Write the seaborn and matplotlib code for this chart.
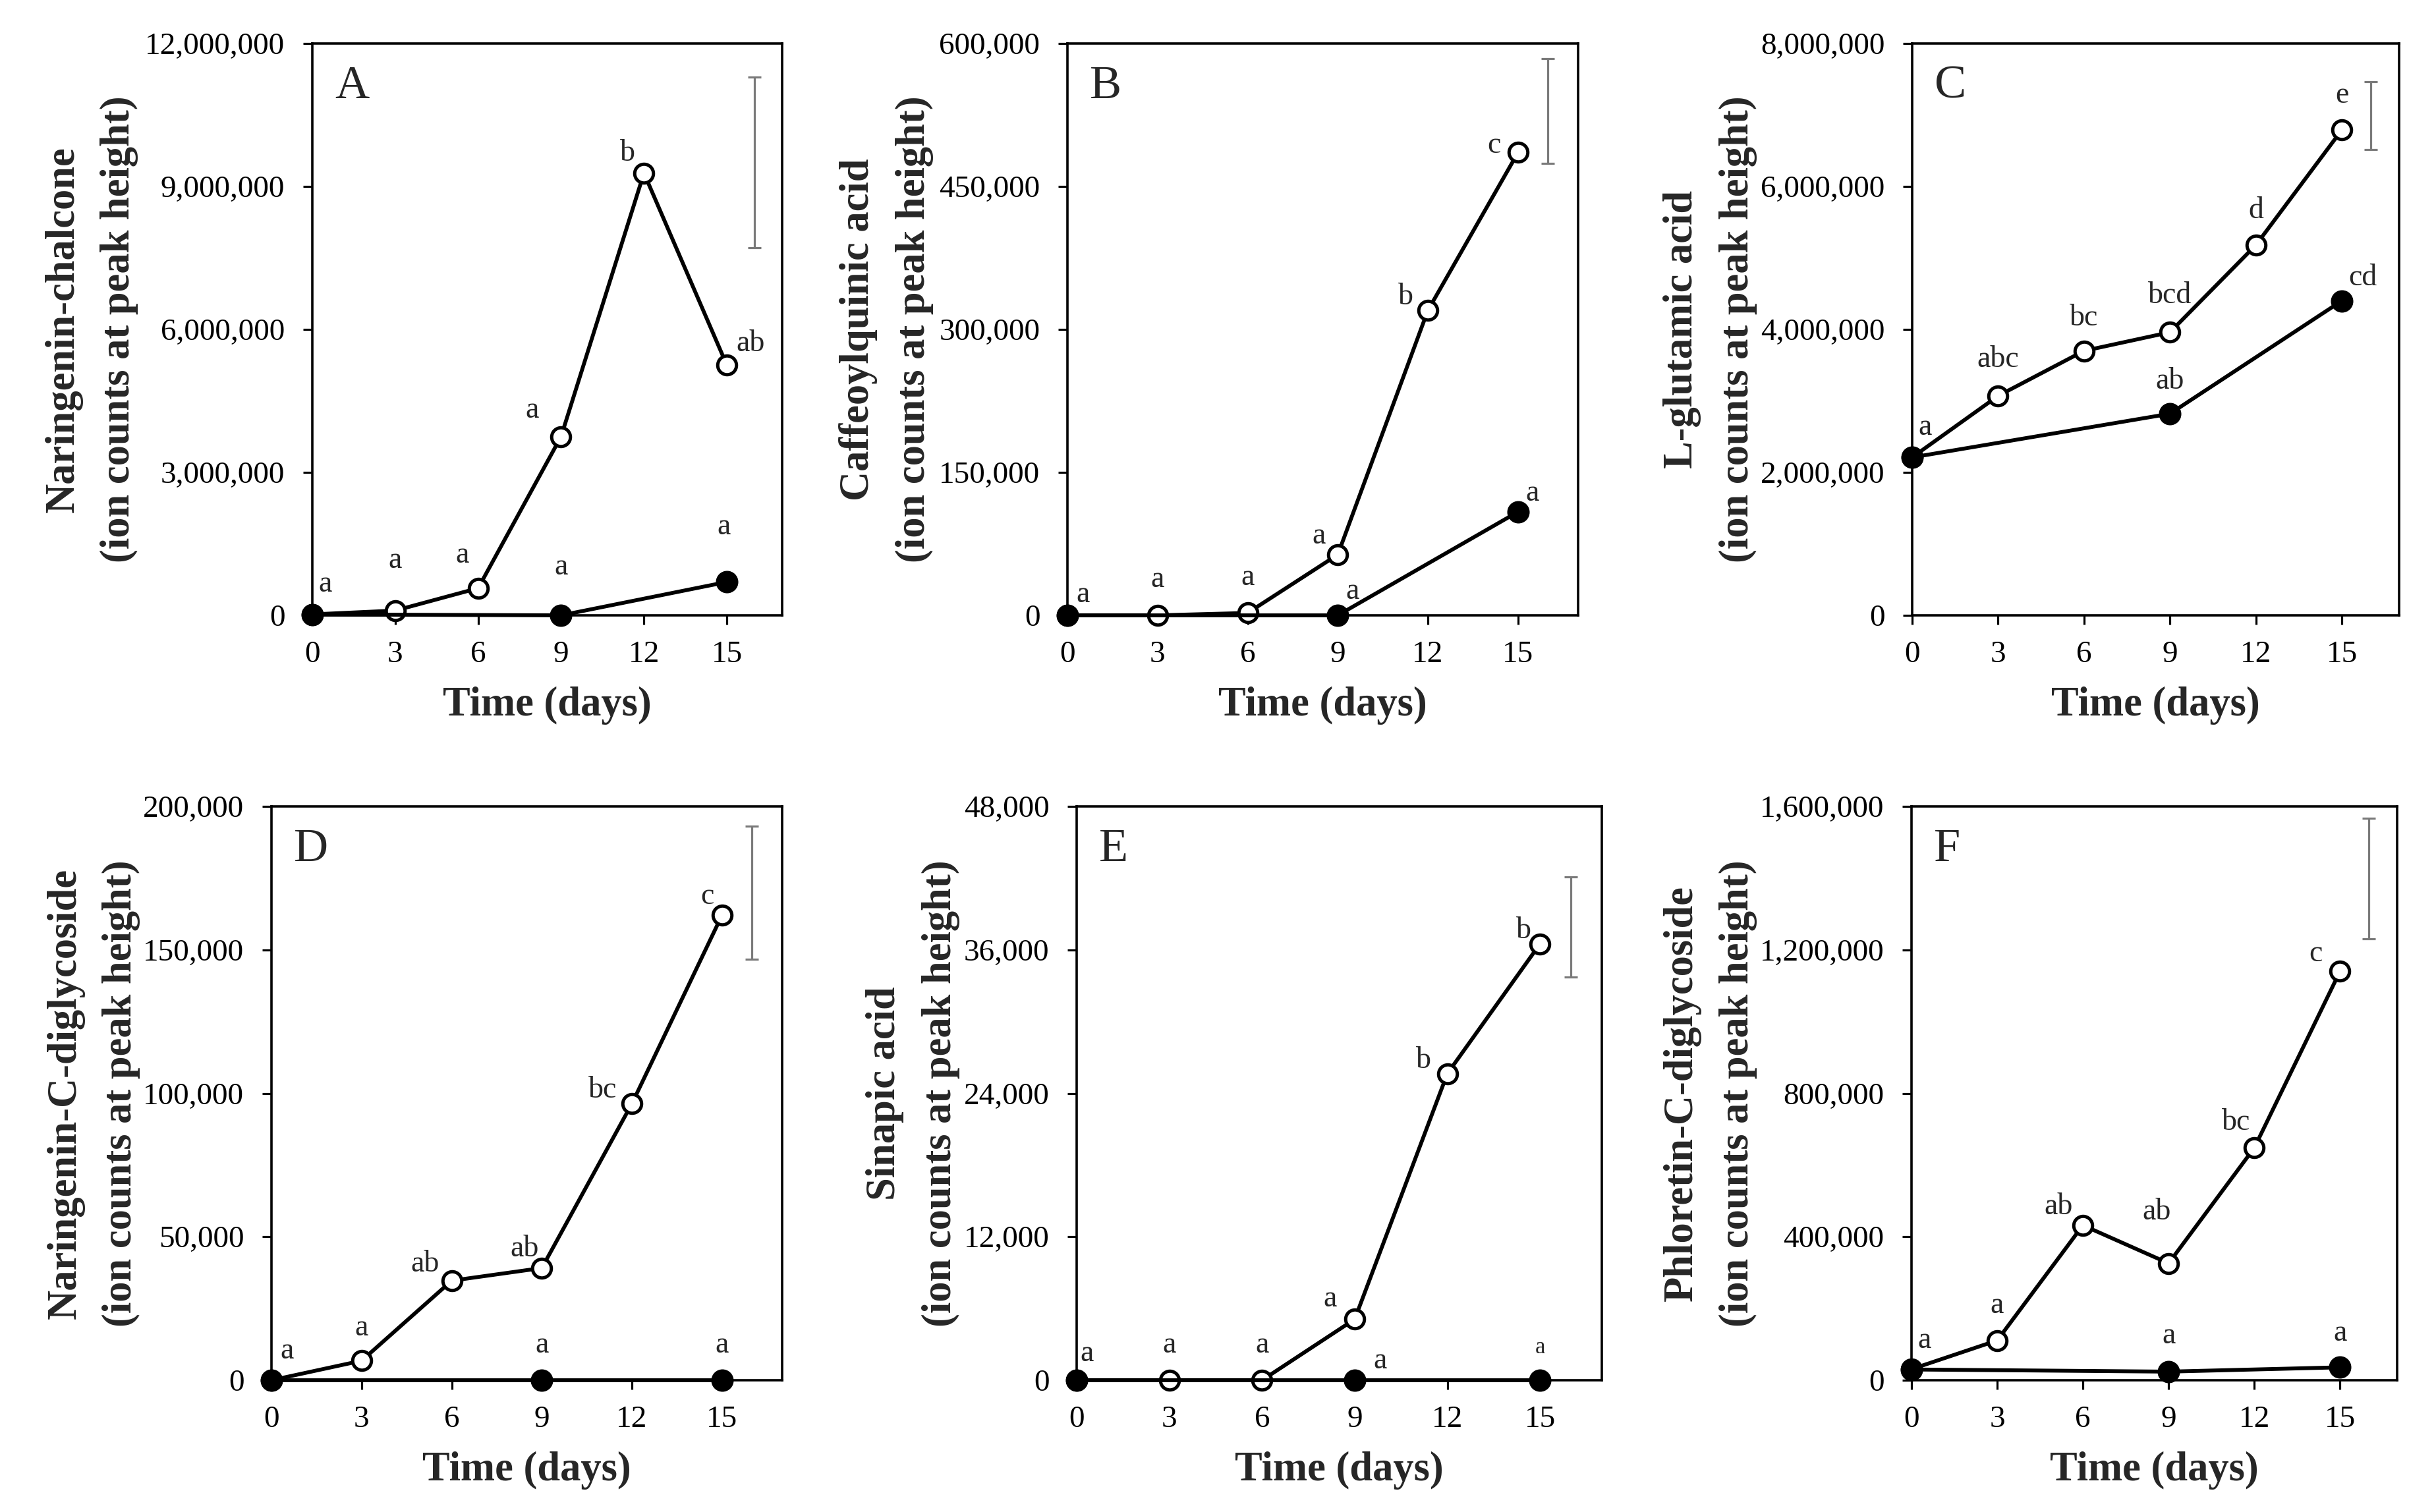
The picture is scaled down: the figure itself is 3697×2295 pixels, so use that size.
import numpy as np
import pandas as pd
import seaborn as sns
import matplotlib.pyplot as plt
from matplotlib.ticker import FuncFormatter

# sampling days
days = [0, 3, 6, 9, 12, 15]
days_ctrl = [0, 9, 15]

# A - naringenin-chalcone
a_open = [20000, 100000, 570000, 3750000, 9280000, 5250000]
a_fill = [20000, 0, 700000]
a_open_lab = ["a", "a", "a", "a", "b", "ab"]
a_fill_lab = ["", "a", "a"]
a_lsd = (9510000, 1790000)

# B - caffeoylquinic acid
b_open = [0, 0, 2500, 63700, 320000, 485600]
b_fill = [0, 0, 108600]
b_open_lab = ["a", "a", "a", "a", "b", "c"]
b_fill_lab = ["", "a", "a"]
b_lsd = (529000, 55000)

# C - L-glutamic acid
c_open = [2210000, 3070000, 3700000, 3960000, 5180000, 6790000]
c_fill = [2210000, 2820000, 4400000]
c_open_lab = ["a", "abc", "bc", "bcd", "d", "e"]
c_fill_lab = ["", "ab", "cd"]
c_lsd = (6995000, 475000)

# D - naringenin-C-diglycoside
d_open = [0, 6800, 34700, 39100, 96400, 162100]
d_fill = [0, 0, 0]
d_open_lab = ["a", "a", "ab", "ab", "bc", "c"]
d_fill_lab = ["", "a", "a"]
d_lsd = (169900, 23200)

# E - sinapic acid
e_open = [0, 0, 0, 5100, 25650, 36500]
e_fill = [0, 0, 0]
e_open_lab = ["a", "a", "a", "a", "b", "b"]
e_fill_lab = ["", "a", "a"]
e_lsd = (37900, 4200)

# F - phloretin-C-diglycoside
f_open = [30800, 111000, 432000, 326000, 648000, 1140000]
f_fill = [30000, 24000, 36000]
f_open_lab = ["a", "a", "ab", "ab", "bc", "c"]
f_fill_lab = ["", "a", "a"]
f_lsd = (1398500, 168500)

W, H = 3697, 2295

# layout per panel: axes box in pixels, y-label baseline x, label offsets (px)
panels = [
    dict(letter="A", ylabel="Naringenin-chalcone\n(ion counts at peak height)",
         box=(474, 66, 1187, 934), ylab_x=196, ymax=12000000, ystep=3000000,
         op=a_open, fi=a_fill, op_lab=a_open_lab, fi_lab=a_fill_lab, lsd=a_lsd,
         op_off=[(20, 46), (0, 76), (-24, 50), (-44, 40), (-25, 30), (36, 32)],
         fi_off=[(0, 0), (0, 73), (-5, 84)]),
    dict(letter="B", ylabel="Caffeoylquinic acid\n(ion counts at peak height)",
         box=(1620, 66, 2395, 934), ylab_x=1403, ymax=600000, ystep=150000,
         op=b_open, fi=b_fill, op_lab=b_open_lab, fi_lab=b_fill_lab, lsd=b_lsd,
         op_off=[(24, 31), (0, 54), (0, 54), (-29, 28), (-34, 20), (-36, 11)],
         fi_off=[(0, 0), (22, 36), (22, 28)]),
    dict(letter="C", ylabel="L-glutamic acid\n(ion counts at peak height)",
         box=(2902, 66, 3641, 934), ylab_x=2653, ymax=8000000, ystep=2000000,
         op=c_open, fi=c_fill, op_lab=c_open_lab, fi_lab=c_fill_lab, lsd=c_lsd,
         op_off=[(20, 45), (0, 55), (0, 50), (0, 56), (0, 52), (0, 53)],
         fi_off=[(0, 0), (0, 49), (32, 35)]),
    dict(letter="D", ylabel="Naringenin-C-diglycoside\n(ion counts at peak height)",
         box=(412, 1224, 1187, 2095), ylab_x=199, ymax=200000, ystep=50000,
         op=d_open, fi=d_fill, op_lab=d_open_lab, fi_lab=d_fill_lab, lsd=d_lsd,
         op_off=[(24, 44), (0, 50), (-40, 25), (-26, 29), (-44, 20), (-22, 28)],
         fi_off=[(0, 0), (0, 53), (0, 53)]),
    dict(letter="E", ylabel="Sinapic acid\n(ion counts at peak height)",
         box=(1634, 1224, 2431, 2095), ylab_x=1443, ymax=48000, ystep=12000,
         op=e_open, fi=e_fill, op_lab=e_open_lab, fi_lab=e_fill_lab, lsd=e_lsd,
         op_off=[(16, 40), (0, 53), (0, 53), (-37, 31), (-36, 20), (-25, 20)],
         fi_off=[(0, 0), (39, 29), (0, 49)]),
    dict(letter="F", ylabel="Phloretin-C-diglycoside\n(ion counts at peak height)",
         box=(2901, 1224, 3638, 2095), ylab_x=2653, ymax=1600000, ystep=400000,
         op=f_open, fi=f_fill, op_lab=f_open_lab, fi_lab=f_fill_lab, lsd=f_lsd,
         op_off=[(20, 43), (0, 53), (-37, 28), (-18, 78), (-28, 38), (-37, 27)],
         fi_off=[(0, 0), (0, 54), (0, 52)]),
]

sns.set_theme(style="ticks")
plt.rcParams["font.family"] = ["Liberation Serif", "DejaVu Serif"]

fig = plt.figure(figsize=(W / 100, H / 100), dpi=100)

for p in panels:
    l, t, r, b = p["box"]
    aw, ah = r - l, b - t
    ax = fig.add_axes([l / W, 1 - b / H, aw / W, ah / H])

    op_df = pd.DataFrame({"day": days, "value": p["op"]})
    fi_df = pd.DataFrame({"day": days_ctrl, "value": p["fi"]})
    sns.lineplot(data=op_df, x="day", y="value", ax=ax, errorbar=None,
                 color="black", lw=4.2, marker="o", markersize=20.5,
                 markerfacecolor="white", markeredgecolor="black",
                 markeredgewidth=3.6, clip_on=False, zorder=3)
    sns.lineplot(data=fi_df, x="day", y="value", ax=ax, errorbar=None,
                 color="black", lw=4.2, marker="o", markersize=23.5,
                 markerfacecolor="black", markeredgecolor="black",
                 markeredgewidth=1, clip_on=False, zorder=4)

    # LSD bar
    ax.errorbar([16], [p["lsd"][0]], yerr=[p["lsd"][1]], fmt="none",
                ecolor="#7a7a7a", elinewidth=2.3, capsize=7, capthick=2.3)

    for x, y, s, off in zip(days, p["op"], p["op_lab"], p["op_off"]):
        if s:
            ax.annotate(s, (x, y), xytext=off, textcoords="offset pixels",
                        ha="center", va="center", fontsize=33, zorder=5)
    for i, (x, y, s, off) in enumerate(zip(days_ctrl, p["fi"], p["fi_lab"], p["fi_off"])):
        if s:
            fs = 25 if (p["letter"] == "E" and i == 2) else 33
            ax.annotate(s, (x, y), xytext=off, textcoords="offset pixels",
                        ha="center", va="center", fontsize=fs, zorder=5)

    ax.annotate(p["letter"], (0, 1), xycoords="axes fraction", xytext=(34, -33),
                textcoords="offset pixels", ha="left", va="top", fontsize=52)

    ax.set_xlim(0, 17)
    ax.set_ylim(0, p["ymax"])
    ax.set_xticks(days)
    ax.set_yticks(np.arange(0, p["ymax"] + 1, p["ystep"]))
    ax.yaxis.set_major_formatter(FuncFormatter(lambda v, pos: f"{int(round(v)):,}"))
    ax.tick_params(direction="out", length=10, width=2.3, labelsize=34,
                   color="black", labelcolor="black", top=False, right=False)
    ax.tick_params(axis="y", pad=20)
    ax.tick_params(axis="x", pad=18)
    for s in ax.spines.values():
        s.set_linewidth(2.6)
        s.set_color("black")

    ax.set_xlabel("Time (days)", fontsize=45, fontweight="bold")
    ax.xaxis.set_label_coords(0.5, -152 / ah)
    ax.xaxis.label.set_verticalalignment("baseline")

    ax.set_ylabel(p["ylabel"], fontsize=45, fontweight="bold", linespacing=1.6)
    ax.yaxis.set_label_coords((p["ylab_x"] + 14 - l) / aw, 0.5)

fig.savefig("out.png", dpi=100, facecolor="white")
